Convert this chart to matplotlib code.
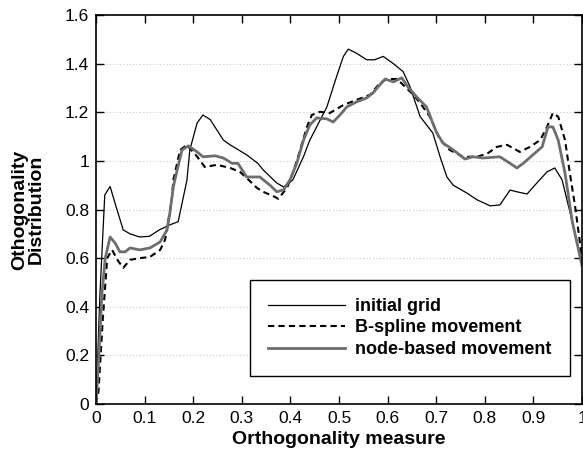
import numpy as np
import matplotlib
matplotlib.use("Agg")
import matplotlib.pyplot as plt
from matplotlib.ticker import FuncFormatter

plt.rcParams["font.family"] = ["Liberation Sans", "DejaVu Sans"]

# initial grid (thin black)
x_init = [0, 0.008, 0.018, 0.029, 0.039, 0.056, 0.07, 0.09, 0.11, 0.13, 0.152,
          0.169, 0.187, 0.193, 0.208, 0.22, 0.235, 0.262, 0.276, 0.31, 0.333,
          0.344, 0.372, 0.386, 0.405, 0.427, 0.44, 0.454, 0.475, 0.495, 0.509,
          0.519, 0.536, 0.557, 0.573, 0.591, 0.612, 0.632, 0.646, 0.667, 0.693,
          0.708, 0.722, 0.735, 0.763, 0.784, 0.811, 0.831, 0.852, 0.866, 0.887,
          0.907, 0.928, 0.944, 0.959, 0.98, 1.0]
y_init = [0, 0.45, 0.86, 0.895, 0.827, 0.716, 0.70, 0.687, 0.69, 0.716, 0.737,
          0.75, 0.92, 1.045, 1.156, 1.189, 1.17, 1.086, 1.066, 1.025, 0.99,
          0.963, 0.909, 0.893, 0.922, 1.018, 1.086, 1.14, 1.222, 1.347, 1.43,
          1.46, 1.443, 1.416, 1.416, 1.43, 1.40, 1.367, 1.306, 1.182, 1.115,
          1.017, 0.934, 0.90, 0.868, 0.84, 0.815, 0.819, 0.88, 0.873, 0.864,
          0.909, 0.955, 0.971, 0.922, 0.75, 0.58]

# B-spline movement (dashed black)
x_bspl = [0, 0.005, 0.014, 0.023, 0.033, 0.045, 0.056, 0.07, 0.09, 0.111,
          0.132, 0.142, 0.148, 0.156, 0.159, 0.173, 0.187, 0.208, 0.224, 0.249,
          0.276, 0.296, 0.31, 0.331, 0.344, 0.368, 0.375, 0.393, 0.405, 0.42,
          0.434, 0.444, 0.461, 0.481, 0.509, 0.536, 0.564, 0.584, 0.598, 0.619,
          0.632, 0.653, 0.667, 0.687, 0.708, 0.728, 0.755, 0.784, 0.805, 0.825,
          0.846, 0.872, 0.893, 0.914, 0.928, 0.94, 0.951, 0.965, 0.975, 0.986,
          1.0]
y_bspl = [0, 0.05, 0.35, 0.6, 0.634, 0.59, 0.56, 0.593, 0.60, 0.605, 0.634,
          0.675, 0.745, 0.84, 0.92, 1.045, 1.066, 1.018, 0.975, 0.984, 0.971,
          0.955, 0.93, 0.889, 0.873, 0.852, 0.844, 0.889, 0.95, 1.045, 1.14,
          1.189, 1.202, 1.197, 1.23, 1.251, 1.272, 1.32, 1.337, 1.337, 1.313,
          1.272, 1.238, 1.182, 1.086, 1.045, 1.017, 1.017, 1.03, 1.058, 1.066,
          1.037, 1.058, 1.086, 1.14, 1.197, 1.182, 1.086, 0.95, 0.81, 0.6]

# node-based movement (thick gray)
x_node = [0, 0.006, 0.012, 0.019, 0.029, 0.04, 0.049, 0.06, 0.07, 0.09, 0.111,
          0.132, 0.146, 0.152, 0.159, 0.167, 0.177, 0.19, 0.208, 0.22, 0.245,
          0.262, 0.28, 0.292, 0.31, 0.323, 0.337, 0.358, 0.372, 0.386, 0.399,
          0.413, 0.427, 0.44, 0.454, 0.475, 0.488, 0.502, 0.516, 0.536, 0.557,
          0.57, 0.584, 0.595, 0.612, 0.629, 0.642, 0.66, 0.68, 0.701, 0.714,
          0.735, 0.759, 0.776, 0.796, 0.831, 0.852, 0.866, 0.879, 0.899, 0.918,
          0.93, 0.94, 0.951, 0.965, 0.98, 1.0]
y_node = [0, 0.2, 0.45, 0.60, 0.687, 0.66, 0.626, 0.626, 0.642, 0.634, 0.642,
          0.667, 0.716, 0.786, 0.893, 0.963, 1.045, 1.062, 1.037, 1.017, 1.021,
          1.012, 0.99, 0.99, 0.934, 0.934, 0.934, 0.90, 0.873, 0.881, 0.922,
          0.99, 1.086, 1.148, 1.177, 1.173, 1.16, 1.189, 1.222, 1.243, 1.259,
          1.28, 1.313, 1.337, 1.325, 1.342, 1.304, 1.263, 1.222, 1.115, 1.074,
          1.045, 1.008, 1.017, 1.012, 1.017, 0.99, 0.971, 0.99, 1.025, 1.058,
          1.14, 1.14, 1.086, 0.95, 0.75, 0.57]

x_ticks = [0, 0.1, 0.2, 0.3, 0.4, 0.5, 0.6, 0.7, 0.8, 0.9, 1]
y_ticks = [0, 0.2, 0.4, 0.6, 0.8, 1, 1.2, 1.4, 1.6]

fig = plt.figure(figsize=(5.83, 4.57), dpi=100)
ax = fig.add_axes([0.1647, 0.116, 0.8336, 0.851])

ax.plot(x_init, y_init, color="black", linewidth=0.9, label="initial grid")
ax.plot(x_bspl, y_bspl, color="black", linewidth=1.5, linestyle=(0, (3, 2)),
        label="B-spline movement")
ax.plot(x_node, y_node, color="#6e6e6e", linewidth=2.0,
        label="node-based movement")

ax.set_xlim(0, 1)
ax.set_ylim(0, 1.6)
ax.set_xticks(x_ticks)
ax.set_yticks(y_ticks)
fmt = FuncFormatter(lambda v, p: "%g" % round(v, 2))
ax.xaxis.set_major_formatter(fmt)
ax.yaxis.set_major_formatter(fmt)
ax.tick_params(direction="in", top=True, right=True, length=6, width=1,
               labelsize=12.5, pad=5)
ax.yaxis.grid(True, linestyle=(0, (1, 2)), color="#c8c8c8", linewidth=0.8)
ax.set_axisbelow(True)
for s in ax.spines.values():
    s.set_linewidth(1.2)

ax.set_xlabel("Orthogonality measure", fontsize=14, fontweight="bold",
              labelpad=4)
ax.set_ylabel("Othogonality\nDistribution", fontsize=14, fontweight="bold",
              linespacing=1.0)
ax.yaxis.set_label_coords(-0.105, 0.5)

leg = ax.legend(loc="lower right", bbox_to_anchor=(0.975, 0.072),
                borderaxespad=0, fancybox=False, framealpha=1,
                edgecolor="black", handlelength=4.3, handletextpad=0.55,
                labelspacing=0.25, borderpad=1.0,
                prop={"weight": "bold", "size": 13})
leg.get_frame().set_linewidth(1.0)

fig.savefig("out.png", dpi=100)
